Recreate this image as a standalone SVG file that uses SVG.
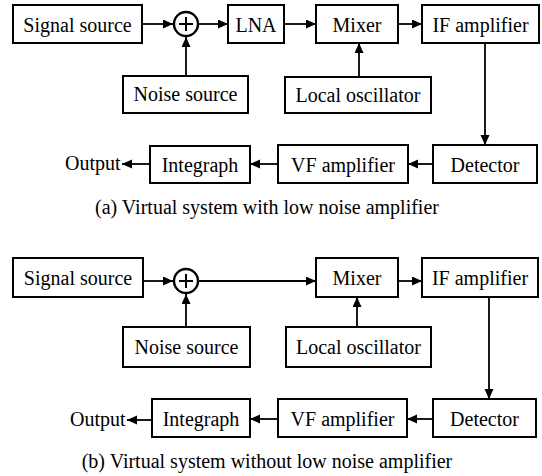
<svg xmlns="http://www.w3.org/2000/svg" width="542" height="476" viewBox="0 0 542 476">
<defs>
<marker id="ah" markerUnits="userSpaceOnUse" markerWidth="11" markerHeight="10" refX="10" refY="4.5" orient="auto">
<path d="M0,0 L10,4.5 L0,9 z" fill="#000"/>
</marker>
</defs>
<rect width="542" height="476" fill="#fff"/>

<g id="connectors" fill="none" stroke="#000" stroke-width="1.8" marker-end="url(#ah)">
<line x1="142" y1="24" x2="173" y2="24"/>
<line x1="199" y1="24" x2="228" y2="24"/>
<line x1="284" y1="24" x2="316" y2="24"/>
<line x1="398" y1="24" x2="422" y2="24"/>
<line x1="186" y1="76" x2="186" y2="37"/>
<line x1="359" y1="77" x2="359" y2="43"/>
<line x1="485" y1="43" x2="485" y2="145"/>
<line x1="433" y1="164" x2="408" y2="164"/>
<line x1="278" y1="164" x2="250" y2="164"/>
<line x1="150" y1="164" x2="122" y2="164"/>
<line x1="143" y1="281" x2="173" y2="281"/>
<line x1="199" y1="281" x2="316" y2="281"/>
<line x1="398" y1="281" x2="422" y2="281"/>
<line x1="186" y1="327" x2="186" y2="294"/>
<line x1="357" y1="327" x2="357" y2="297"/>
<line x1="489" y1="297" x2="489" y2="399"/>
<line x1="433" y1="419" x2="407" y2="419"/>
<line x1="278" y1="419" x2="250" y2="419"/>
<line x1="152" y1="420" x2="127" y2="420"/>
</g>

<g id="nodes" font-family="'Liberation Serif', serif" font-size="20" text-anchor="middle" fill="#000">
<g id="signal_a"><rect fill="#fff" stroke="#000" stroke-width="2" x="13" y="5" width="129" height="38"/><text x="77.5" y="31.5">Signal source</text></g>
<g id="sum_a" stroke="#000"><circle fill="#fff" stroke-width="2.4" cx="186" cy="24" r="12"/><path fill="none" stroke-width="2" d="M179,24 H193 M186,17 V31"/></g>
<g id="lna_a"><rect fill="#fff" stroke="#000" stroke-width="2" x="228" y="5" width="56" height="38"/><text x="256" y="31.5">LNA</text></g>
<g id="mixer_a"><rect fill="#fff" stroke="#000" stroke-width="2" x="316" y="5" width="82" height="38"/><text x="357" y="31.5">Mixer</text></g>
<g id="if_a"><rect fill="#fff" stroke="#000" stroke-width="2" x="422" y="5" width="117" height="38"/><text x="480.5" y="31.5">IF amplifier</text></g>
<g id="noise_a"><rect fill="#fff" stroke="#000" stroke-width="2" x="123" y="76" width="125" height="37"/><text x="185.5" y="101">Noise source</text></g>
<g id="lo_a"><rect fill="#fff" stroke="#000" stroke-width="2" x="285" y="77" width="146" height="36"/><text x="358" y="101.5">Local oscillator</text></g>
<g id="det_a"><rect fill="#fff" stroke="#000" stroke-width="2" x="433" y="145" width="104" height="38"/><text x="485" y="171.5">Detector</text></g>
<g id="vf_a"><rect fill="#fff" stroke="#000" stroke-width="2" x="278" y="145" width="130" height="38"/><text x="343" y="171.5">VF amplifier</text></g>
<g id="int_a"><rect fill="#fff" stroke="#000" stroke-width="2" x="150" y="146" width="100" height="37"/><text x="200" y="171.5">Integraph</text></g>
<g id="out_a"><text text-anchor="start" x="65" y="170">Output</text></g>
<text x="267" y="214">(a) Virtual system with low noise amplifier</text>

<g id="signal_b"><rect fill="#fff" stroke="#000" stroke-width="2" x="13" y="258" width="130" height="39"/><text x="78" y="285">Signal source</text></g>
<g id="sum_b" stroke="#000"><circle fill="#fff" stroke-width="2.4" cx="186" cy="281" r="12"/><path fill="none" stroke-width="2" d="M179,281 H193 M186,274 V288"/></g>
<g id="mixer_b"><rect fill="#fff" stroke="#000" stroke-width="2" x="316" y="258" width="82" height="39"/><text x="357" y="285">Mixer</text></g>
<g id="if_b"><rect fill="#fff" stroke="#000" stroke-width="2" x="422" y="258" width="116" height="39"/><text x="480" y="285">IF amplifier</text></g>
<g id="noise_b"><rect fill="#fff" stroke="#000" stroke-width="2" x="123" y="327" width="127" height="40"/><text x="186.5" y="354">Noise source</text></g>
<g id="lo_b"><rect fill="#fff" stroke="#000" stroke-width="2" x="286" y="327" width="145" height="40"/><text x="358.5" y="354">Local oscillator</text></g>
<g id="det_b"><rect fill="#fff" stroke="#000" stroke-width="2" x="433" y="399" width="103" height="38"/><text x="484.5" y="426">Detector</text></g>
<g id="vf_b"><rect fill="#fff" stroke="#000" stroke-width="2" x="278" y="399" width="129" height="38"/><text x="342.5" y="426">VF amplifier</text></g>
<g id="int_b"><rect fill="#fff" stroke="#000" stroke-width="2" x="152" y="399" width="98" height="38"/><text x="201" y="426">Integraph</text></g>
<g id="out_b"><text text-anchor="start" x="70" y="426">Output</text></g>
<text x="267" y="468">(b) Virtual system without low noise amplifier</text>
</g>
</svg>
